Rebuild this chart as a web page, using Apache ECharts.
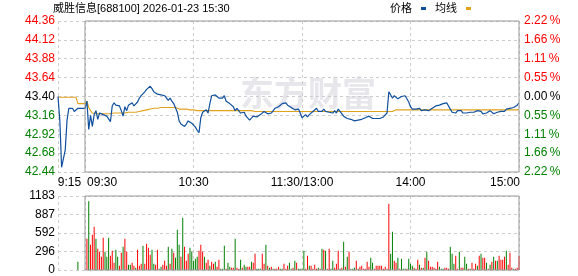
<!DOCTYPE html>
<html>
<head>
<meta charset="utf-8">
<script src="https://cdn.jsdelivr.net/npm/echarts@6/dist/echarts.min.js"></script>
<style>html,body{margin:0;padding:0;background:#fff}#c{width:578px;height:276px}</style>
</head>
<body>
<div id="c"></div>
<script>
// ---------------- data ----------------
const titleText = '威胜信息[688100] 2026-01-23 15:30';
const legendNames = ['价格', '均线'];
const prevClose = 43.40;
const priceMin = 42.44, priceMax = 44.36, priceStep = 0.24;
const pctLabels = ['2.22\u2009%', '1.66\u2009%', '1.11\u2009%', '0.55\u2009%', '0.00\u2009%', '0.55\u2009%', '1.11\u2009%', '1.66\u2009%', '2.22\u2009%'];
const volMax = 1183;
const timeTicks = [-15, 0, 60, 120, 180, 240];
const timeTickLabels = ['9:15', '09:30', '10:30', '11:30/13:00', '14:00', '15:00'];

// pre-market auction (minutes before 09:30)
const preMinutes = [-15, -14, -13, -12, -11, -10, -9, -8, -7, -6, -5, -4, -3, -2, -1];
const prePrice = [43.40, 43.10, 42.50, 42.48, 42.72, 43.10, 43.25, 43.25, 43.25, 43.21, 43.20, 43.25, 43.25, 43.25, 43.25];
const preAvg = [43.39, 43.39, 43.39, 43.39, 43.39, 43.39, 43.39, 43.39, 43.39, 43.39, 43.39, 43.31, 43.31, 43.31, 43.31];
const preVolMinute = [-4];
const preVol = [133];
const preVolUp = [0];

// session minutes 0..240 (09:30 .. 11:30 | 13:00 .. 15:00)
const price = [
43.25,43.34,42.98,43.16,43.02,43.17,43.22,43.11,43.19,43.21,
43.17,43.19,43.15,43.14,43.08,43.28,43.32,43.29,43.30,43.28,
43.22,43.15,43.27,43.22,43.29,43.27,43.32,43.28,43.27,43.33,
43.38,43.41,43.43,43.46,43.49,43.51,43.53,43.50,43.46,43.47,
43.43,43.42,43.42,43.40,43.41,43.39,43.35,43.38,43.34,43.31,
43.33,43.20,43.09,43.05,43.03,43.02,43.05,43.09,43.09,43.06,
43.04,43.01,42.97,42.94,43.13,43.20,43.19,43.23,43.19,43.31,
43.41,43.43,43.42,43.40,43.38,43.36,43.38,43.41,43.34,43.36,
43.31,43.32,43.27,43.22,43.25,43.23,43.19,43.18,43.20,43.15,
43.17,43.10,43.09,43.15,43.17,43.14,43.12,43.17,43.19,43.21,
43.19,43.18,43.20,43.19,43.17,43.25,43.23,43.27,43.29,43.31,
43.32,43.32,43.29,43.27,43.26,43.25,43.23,43.21,43.24,43.19,
43.13,43.15,43.17,43.14,43.17,43.19,43.21,43.23,43.25,43.21,
43.23,43.21,43.24,43.21,43.23,43.20,43.22,43.19,43.22,43.19,
43.24,43.21,43.23,43.15,43.15,43.12,43.14,43.11,43.10,43.09,
43.11,43.10,43.11,43.11,43.11,43.13,43.15,43.15,43.14,43.12,
43.12,43.12,43.12,43.12,43.13,43.14,43.12,43.19,43.46,43.44,
43.38,43.41,43.40,43.37,43.39,43.40,43.40,43.41,43.40,43.33,
43.27,43.24,43.23,43.24,43.23,43.25,43.22,43.24,43.23,43.22,
43.22,43.24,43.25,43.27,43.28,43.29,43.29,43.30,43.31,43.31,
43.32,43.34,43.24,43.20,43.21,43.19,43.22,43.20,43.22,43.19,
43.20,43.19,43.21,43.20,43.19,43.20,43.19,43.22,43.21,43.21,
43.18,43.20,43.19,43.20,43.22,43.20,43.18,43.20,43.20,43.22,
43.21,43.23,43.21,43.24,43.25,43.25,43.27,43.26,43.27,43.29,
43.32];
const avgPrice = [
43.31,43.34,43.26,43.22,43.19,43.18,43.18,43.18,43.18,43.18,
43.18,43.18,43.18,43.18,43.18,43.19,43.19,43.19,43.19,43.19,
43.19,43.19,43.19,43.20,43.20,43.20,43.20,43.20,43.20,43.21,
43.21,43.21,43.22,43.22,43.23,43.23,43.24,43.24,43.25,43.25,
43.25,43.26,43.26,43.26,43.26,43.26,43.26,43.26,43.26,43.26,
43.26,43.26,43.24,43.24,43.24,43.24,43.24,43.23,43.23,43.23,
43.23,43.22,43.22,43.22,43.22,43.22,43.22,43.22,43.22,43.22,
43.22,43.22,43.22,43.22,43.22,43.22,43.22,43.22,43.22,43.22,
43.22,43.22,43.22,43.22,43.22,43.22,43.22,43.22,43.22,43.22,
43.22,43.22,43.22,43.21,43.21,43.21,43.21,43.21,43.21,43.21,
43.21,43.21,43.21,43.21,43.21,43.21,43.21,43.21,43.21,43.21,
43.21,43.21,43.21,43.21,43.21,43.21,43.21,43.21,43.21,43.21,
43.21,43.21,43.21,43.21,43.21,43.21,43.21,43.21,43.21,43.21,
43.21,43.21,43.21,43.21,43.21,43.21,43.21,43.21,43.21,43.21,
43.21,43.21,43.21,43.21,43.21,43.21,43.21,43.21,43.21,43.21,
43.21,43.21,43.21,43.21,43.21,43.21,43.21,43.21,43.21,43.21,
43.21,43.21,43.21,43.21,43.21,43.21,43.21,43.21,43.21,43.21,
43.21,43.23,43.23,43.23,43.23,43.23,43.23,43.23,43.23,43.23,
43.23,43.23,43.23,43.23,43.23,43.23,43.23,43.23,43.23,43.23,
43.23,43.23,43.23,43.23,43.23,43.23,43.23,43.23,43.23,43.23,
43.23,43.23,43.23,43.23,43.23,43.23,43.23,43.23,43.23,43.23,
43.23,43.23,43.23,43.23,43.23,43.23,43.23,43.23,43.23,43.23,
43.23,43.23,43.23,43.23,43.23,43.23,43.23,43.23,43.23,43.23,
43.23,43.23,43.23,43.23,43.23,43.23,43.23,43.23,43.23,43.23,
43.23];
const volume = [
0,501,1098,405,565,693,501,341,293,213,
517,293,213,517,229,309,117,325,213,69,
277,373,501,293,85,85,117,69,37,325,
69,101,389,101,421,357,245,325,101,85,
325,21,53,85,149,69,373,101,341,277,
197,645,405,213,837,373,149,261,357,293,
149,181,213,309,405,293,213,117,165,69,
133,101,133,53,165,21,21,389,21,117,
53,37,37,501,37,21,165,37,85,53,
53,53,133,117,261,21,21,21,261,101,
405,69,37,53,21,21,21,53,21,21,
101,21,69,117,21,37,149,117,21,21,
21,309,21,229,69,69,21,85,21,37,
21,341,325,309,21,341,21,149,37,101,
309,21,37,453,53,213,293,21,21,37,
149,21,53,69,21,21,133,53,197,117,
21,69,69,69,69,21,53,21,1061,261,
613,149,117,197,21,181,21,21,21,181,
101,69,37,21,165,85,37,37,197,293,
149,53,53,37,21,133,53,21,21,37,
37,21,373,261,101,229,21,293,37,37,
213,101,21,21,117,21,101,69,229,261,
197,197,117,21,85,133,213,149,149,229,
165,165,213,309,85,277,37,21,21,37,
229];
// 1 = up (red), 0 = down (green)
const volumeUp = [
1,1,0,1,1,1,0,1,1,1,
1,0,0,0,1,1,1,0,0,1,
1,0,1,1,0,0,1,1,0,1,
1,1,0,1,1,1,1,0,0,1,
1,0,0,1,1,1,0,1,0,1,
0,0,0,1,0,1,1,1,0,0,
0,0,0,1,1,1,0,1,1,0,
1,1,0,1,1,0,0,0,1,0,
0,1,1,0,1,1,0,1,0,0,
1,1,0,1,1,0,0,0,1,1,
0,1,0,1,0,1,1,1,0,0,
1,1,1,0,0,1,0,1,0,0,
0,0,1,1,0,1,1,1,1,0,
1,0,1,0,1,1,0,0,1,1,
1,0,1,0,1,0,1,0,0,0,
1,0,1,1,1,1,1,1,0,0,
1,1,1,1,1,1,1,1,1,0,
0,1,1,0,1,0,0,0,1,0,
0,0,1,0,1,0,1,0,1,0,
1,1,1,1,1,1,0,0,0,1,
1,1,0,0,0,1,1,0,1,1,
0,0,1,0,1,1,1,0,1,0,
1,1,0,1,0,1,0,1,0,1,
1,1,1,0,1,1,1,0,1,1,
1];

// ---------------- style ----------------
const FONT = "'Liberation Sans', Arial, 'Noto Sans CJK SC', sans-serif";
const RED = '#ff0000', GREEN = '#008000', BLUE = '#0f4f9e', GOLD = '#e0a11b';
const DASH = { color: '#cccccc', type: [3, 3], width: 1 };
const BOX = '#999999';

// ---------------- build series data ----------------
const priceData = preMinutes.map((m, k) => [m, prePrice[k]]).concat(price.map((p, i) => [i, p]));
const avgData = preMinutes.map((m, k) => [m, preAvg[k]]).concat(avgPrice.map((p, i) => [i, p]));
const volData = preVolMinute.map((m, k) => ({ value: [m, preVol[k]], itemStyle: { color: preVolUp[k] ? RED : GREEN } }))
  .concat(volume.map((v, i) => ({ value: [i, v], itemStyle: { color: volumeUp[i] ? RED : GREEN } })));

const richTime = {};
const pads = [[0, 0, 0, 23], [0, 0, 0, 34], 0, 0, 0, [0, 28, 0, 0]];
pads.forEach((p, k) => { richTime['s' + k] = { fontSize: 12, fontFamily: FONT, color: '#000', padding: p }; });

const chart = echarts.init(document.getElementById('c'), null, { renderer: 'canvas', width: 578, height: 276 });
chart.setOption({
  animation: false,
  backgroundColor: '#fff',
  title: {
    text: titleText, left: 53, top: 3, padding: 0,
    textStyle: { fontSize: 11, fontWeight: 'normal', color: '#000', fontFamily: FONT }
  },
  legend: {
    data: legendNames, left: 390, top: 3, padding: 0,
    icon: 'rect', itemWidth: 5, itemHeight: 3, itemGap: 9, align: 'right',
    textStyle: { fontSize: 11, fontFamily: FONT, color: '#000', padding: [0, 4, 0, 0] }
  },
  graphic: [{
    type: 'text', left: 240, top: 76, z: -10, silent: true,
    style: { text: '东方财富', fontSize: 34, fontWeight: 'bold', fontFamily: "'Noto Sans CJK SC'", fill: '#e6e6eb' }
  }],
  grid: [
    { left: 58, right: 59, top: 21, bottom: 104, show: false },
    { left: 85, right: 59, top: 21, bottom: 104, show: true, borderColor: BOX, borderWidth: 1, backgroundColor: 'transparent', z: 5 },
    { left: 58, right: 59, top: 196, bottom: 6, show: false },
    { left: 85, right: 59, top: 196, bottom: 6, show: true, borderColor: BOX, borderWidth: 1, backgroundColor: 'transparent', z: 5 }
  ],
  xAxis: [
    {
      type: 'value', gridIndex: 0, min: -15, max: 240,
      axisLine: { show: false }, axisTick: { show: false, customValues: timeTicks },
      splitLine: { show: true, lineStyle: DASH },
      axisLabel: {
        customValues: timeTicks, showMinLabel: true, showMaxLabel: true, margin: 5,
        fontSize: 12, fontFamily: FONT, color: '#000', rich: richTime,
        formatter: v => { const k = timeTicks.indexOf(v); return k < 0 ? '' : '{s' + k + '|' + timeTickLabels[k] + '}'; }
      }
    },
    { type: 'value', gridIndex: 1, min: 0, max: 240, show: false },
    {
      type: 'value', gridIndex: 2, min: -15, max: 240,
      axisLine: { show: false }, axisTick: { show: false, customValues: timeTicks },
      splitLine: { show: true, lineStyle: DASH }, axisLabel: { show: false, customValues: timeTicks }
    },
    { type: 'value', gridIndex: 3, min: 0, max: 240, show: false }
  ],
  yAxis: [
    {
      type: 'value', gridIndex: 0, min: priceMin, max: priceMax, interval: priceStep,
      axisLine: { show: false }, axisTick: { show: false },
      splitLine: { show: true, lineStyle: DASH },
      axisLabel: {
        margin: 3, fontSize: 12, fontFamily: FONT,
        formatter: v => Number(v).toFixed(2),
        color: v => { const d = parseFloat(v) - prevClose; return Math.abs(d) < 0.001 ? '#000' : (d > 0 ? RED : GREEN); }
      }
    },
    {
      type: 'value', gridIndex: 0, position: 'right', min: 0, max: 8, interval: 1,
      axisLine: { show: false }, axisTick: { show: false }, splitLine: { show: false },
      axisLabel: {
        margin: 5, fontSize: 12, fontFamily: FONT,
        formatter: v => pctLabels[8 - Math.round(v)],
        color: v => { const n = Math.round(parseFloat(v)); return n === 4 ? '#000' : (n > 4 ? RED : GREEN); }
      }
    },
    { type: 'value', gridIndex: 1, min: 0, max: 1, show: false },
    {
      type: 'value', gridIndex: 2, min: 0, max: volMax, interval: volMax / 4,
      axisLine: { show: false }, axisTick: { show: false },
      splitLine: { show: true, lineStyle: DASH },
      axisLabel: { margin: 3, fontSize: 12, fontFamily: FONT, color: '#000', formatter: v => String(Math.round(v)) }
    },
    { type: 'value', gridIndex: 3, min: 0, max: 1, show: false }
  ],
  series: [
    {
      name: legendNames[1], type: 'line', xAxisIndex: 0, yAxisIndex: 0, data: avgData,
      showSymbol: false, symbol: 'none', color: GOLD, lineStyle: { width: 1.1, color: GOLD }, z: 3
    },
    {
      name: legendNames[0], type: 'line', xAxisIndex: 0, yAxisIndex: 0, data: priceData,
      showSymbol: false, symbol: 'none', color: BLUE, lineStyle: { width: 1.2, color: BLUE }, z: 4
    },
    {
      name: '成交量', type: 'bar', xAxisIndex: 2, yAxisIndex: 3, data: volData,
      barWidth: 1, z: 3
    }
  ]
});
</script>
</body>
</html>
